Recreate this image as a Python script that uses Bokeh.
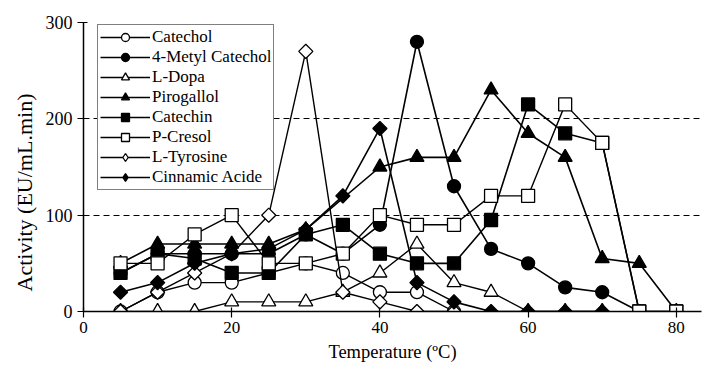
import math
from bokeh.plotting import figure
from bokeh.models import Range1d, FixedTicker, Legend, LegendItem, Title
from bokeh.embed import file_html
from bokeh.resources import INLINE

# ---- data (temperature in ºC, activity in EU/mL.min) ----
catechol_t = [5, 10, 15, 20, 25, 30, 35, 40, 45, 50]
catechol_v = [0, 20, 30, 30, 40, 50, 40, 20, 20, 0]

metyl_t = [5, 10, 15, 20, 25, 30, 35, 40, 45, 50, 55, 60, 65, 70, 75]
metyl_v = [40, 60, 60, 60, 60, 80, 60, 90, 280, 130, 65, 50, 25, 20, 0]

dopa_t = [5, 10, 15, 20, 25, 30, 35, 40, 45, 50, 55, 60, 65, 70]
dopa_v = [0, 0, 0, 10, 10, 10, 20, 40, 70, 30, 20, 0, 0, 0]

piro_t = [5, 10, 15, 20, 25, 30, 40, 45, 50, 55, 60, 65, 70, 75, 80]
piro_v = [50, 70, 70, 70, 70, 85, 150, 160, 160, 230, 185, 160, 55, 50, 0]

catechin_t = [5, 10, 15, 20, 25, 30, 35, 40, 45, 50, 55, 60, 65, 70, 75, 80]
catechin_v = [40, 60, 55, 40, 40, 80, 90, 60, 50, 50, 95, 215, 185, 175, 0, 0]

cresol_t = [5, 10, 15, 20, 25, 30, 35, 40, 45, 50, 55, 60, 65, 70, 75, 80]
cresol_v = [50, 50, 80, 100, 50, 50, 60, 100, 90, 90, 120, 120, 215, 175, 0, 0]

tyro_t = [5, 10, 15, 20, 25, 30, 35, 40, 45, 50]
tyro_v = [0, 20, 40, 60, 100, 270, 20, 10, 0, 0]

cinn_t = [5, 10, 15, 20, 25, 30, 35, 40, 45, 50, 55, 60, 65, 70]
cinn_v = [20, 30, 50, 60, 65, 85, 120, 190, 30, 10, 0, 0, 0, 0]

series = [
    ("Catechol", catechol_t, catechol_v, "circle", False),
    ("4-Metyl Catechol", metyl_t, metyl_v, "circle", True),
    ("L-Dopa", dopa_t, dopa_v, "triangle", False),
    ("Pirogallol", piro_t, piro_v, "triangle", True),
    ("Catechin", catechin_t, catechin_v, "square", True),
    ("P-Cresol", cresol_t, cresol_v, "square", False),
    ("L-Tyrosine", tyro_t, tyro_v, "diamond", False),
    ("Cinnamic Acide", cinn_t, cinn_v, "diamond", True),
]

x_ticks = [0, 20, 40, 60, 80]
y_ticks = [0, 100, 200, 300]
grid_levels = [100, 200]

FONT = "Liberation Serif"

p = figure(width=702, height=377, output_backend="svg", toolbar_location=None,
           x_range=Range1d(0, 83.4), y_range=Range1d(0, 300),
           min_border_left=83, min_border_right=1, min_border_top=22, min_border_bottom=66)
p.outline_line_color = None
p.background_fill_color = "white"
p.border_fill_color = "white"

p.xgrid.visible = False
p.ygrid.ticker = FixedTicker(ticks=grid_levels)
p.ygrid.grid_line_color = "black"
p.ygrid.grid_line_dash = "6 4"
p.ygrid.grid_line_width = 1

for ax, ticks in ((p.xaxis[0], x_ticks), (p.yaxis[0], y_ticks)):
    ax.ticker = FixedTicker(ticks=ticks)
    ax.minor_tick_line_color = None
    ax.axis_line_color = "black"
    ax.axis_line_width = 1.5
    ax.major_tick_line_color = "black"
    ax.major_tick_line_width = 1.2
    ax.major_tick_in = 4
    ax.major_tick_out = 6
    ax.major_label_text_font = FONT
    ax.major_label_text_color = "black"
    ax.axis_label_text_font = FONT
    ax.axis_label_text_font_style = "normal"
    ax.axis_label_text_color = "black"

p.xaxis.major_label_text_font_size = "17px"
p.yaxis.major_label_text_font_size = "18px"
p.xaxis.axis_label = "Temperature (ºC)"
p.xaxis.axis_label_text_font_size = "18.5px"
p.xaxis.major_label_standoff = 4
p.xaxis.axis_label_standoff = 6
p.yaxis.major_label_standoff = 5

# y-axis title as a side title, anchored near the bottom like the original
ytitle = Title(text="Activity (EU/mL.min)", align="left", offset=20,
               text_font=FONT, text_font_size="22px", text_font_style="normal",
               text_color="black", standoff=11)
p.add_layout(ytitle, "left")

items = []
for name, t, v, marker, filled in series:
    lw = 1.6 if filled else 1.4
    ln = p.line(t, v, line_color="black", line_width=lw)
    fill = "black" if filled else "white"
    if marker == "diamond":
        sc = p.scatter(t, v, marker="square", size=10, angle=math.pi / 4,
                       fill_color=fill, line_color="black", line_width=1.3)
        # legend-only glyph (never drawn in the plot area) so the key shows a diamond
        lg = p.scatter([float("nan")], [float("nan")], marker="diamond", size=16,
                       fill_color=fill, line_color="black", line_width=1.3)
        items.append(LegendItem(label=name, renderers=[ln, lg]))
    else:
        sz = {"circle": 13, "square": 13, "triangle": 14}[marker]
        sc = p.scatter(t, v, marker=marker, size=sz, fill_color=fill,
                       line_color="black", line_width=1.3)
        items.append(LegendItem(label=name, renderers=[ln, sc]))

legend = Legend(items=items, location=(14, 121))
legend.margin = 0
legend.padding = 2
legend.spacing = 0
legend.label_height = 20
legend.glyph_height = 20
legend.glyph_width = 50
legend.label_standoff = 2
legend.label_text_font = FONT
legend.label_text_font_size = "17px"
legend.label_text_color = "black"
legend.border_line_color = "black"
legend.border_line_width = 1.3
legend.background_fill_color = "white"
legend.background_fill_alpha = 1
p.add_layout(legend, "center")

open("out.html", "w").write(file_html(p, INLINE))
